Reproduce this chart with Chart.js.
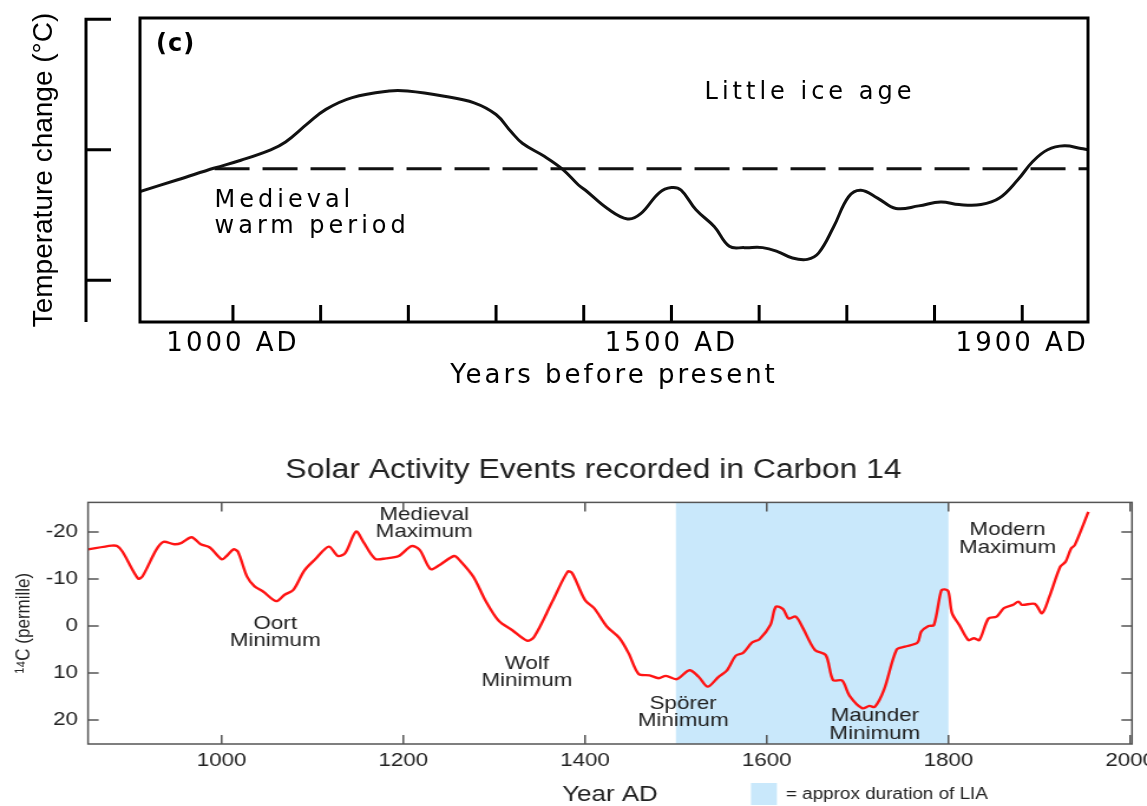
<!DOCTYPE html>
<html>
<head>
<meta charset="utf-8">
<script src="https://cdn.jsdelivr.net/npm/chart.js@4.4.1/dist/chart.umd.min.js"></script>
<style>
html,body{margin:0;padding:0;background:#fff;overflow:hidden}
#tempChart{position:absolute;left:0;top:0}
/* the carbon-14 panel in the source is stretched sideways, so draw it narrow and widen it */
#c14Chart{position:absolute;left:0;top:440px;transform:scaleX(1.18);transform-origin:0 0}
</style>
</head>
<body>
<canvas id="tempChart" width="1147" height="400"></canvas>
<canvas id="c14Chart" width="972" height="366"></canvas>
<script>
// ---- top panel (c): schematic temperature curve ----
const tempYears  = [894, 937, 979, 1009, 1043, 1060, 1085, 1106, 1136, 1178, 1199, 1241, 1275, 1300, 1317, 1330, 1355, 1376, 1394, 1402, 1427, 1450, 1465, 1486, 1500, 1511, 1528, 1549, 1566, 1583, 1604, 1621, 1638, 1655, 1668, 1685, 1702, 1716, 1735, 1756, 1782, 1807, 1828, 1853, 1874, 1895, 1912, 1929, 1948, 1967, 1975];
const tempValues = [-0.32, -0.23, -0.14, -0.08, 0, 0.06, 0.2, 0.31, 0.4, 0.45, 0.45, 0.41, 0.36, 0.27, 0.14, 0.05, -0.05, -0.15, -0.27, -0.31, -0.45, -0.53, -0.49, -0.33, -0.29, -0.31, -0.46, -0.59, -0.74, -0.75, -0.75, -0.78, -0.83, -0.84, -0.79, -0.59, -0.36, -0.31, -0.37, -0.45, -0.43, -0.4, -0.42, -0.42, -0.37, -0.23, -0.09, 0, 0.03, 0.01, 0];
const tempMeanYears = [979, 1975];
const tempMeanValue = -0.146;
const tempTickYears  = [1000, 1100, 1200, 1300, 1400, 1500, 1600, 1700, 1800, 1900];
const tempTickLabels = ['1000 AD', '', '', '', '', '1500 AD', '', '', '', '1900 AD'];
const tempAxisTicks = [1, 0, -1];
const tempNotes = [
  {lines: ['Little ice age'], year: 1658, value: 0.44, align: 'center'},
  {lines: ['Medieval', 'warm period'], year: 979, value: -0.49, align: 'left'}
];

// ---- bottom panel: carbon 14 record ----
const c14Years  = [853, 879, 885, 891, 908, 913, 928, 936, 948, 956, 967, 977, 987, 1000, 1005, 1013, 1018, 1028, 1036, 1046, 1060, 1069, 1079, 1091, 1103, 1118, 1128, 1136, 1148, 1156, 1169, 1181, 1195, 1209, 1218, 1230, 1240, 1256, 1262, 1277, 1291, 1305, 1320, 1336, 1344, 1364, 1381, 1386, 1400, 1410, 1424, 1438, 1448, 1459, 1471, 1481, 1489, 1501, 1515, 1525, 1535, 1547, 1556, 1566, 1574, 1584, 1592, 1604, 1610, 1618, 1624, 1632, 1640, 1653, 1665, 1673, 1683, 1691, 1705, 1713, 1719, 1729, 1743, 1752, 1766, 1770, 1778, 1784, 1792, 1796, 1800, 1804, 1812, 1822, 1828, 1834, 1844, 1853, 1861, 1871, 1877, 1881, 1895, 1903, 1911, 1923, 1929, 1935, 1939, 1954];
const c14Values = [-16.3, -17.1, -17.0, -15.8, -10.1, -10.6, -16.2, -17.9, -17.4, -17.7, -18.9, -17.4, -16.7, -14.2, -14.8, -16.3, -15.8, -10.5, -8.5, -7.3, -5.3, -6.6, -7.7, -11.8, -14.2, -16.9, -14.9, -15.5, -20.1, -17.9, -14.3, -14.4, -14.9, -17.0, -16.2, -12.1, -13.0, -14.9, -14.0, -10.5, -5.2, -1.1, 0.9, 3.1, 2.3, -5.2, -11.6, -11.2, -5.5, -3.8, 0.1, 2.6, 5.8, 10.2, 10.5, 11.1, 10.6, 11.3, 9.4, 10.8, 12.9, 10.8, 9.5, 6.3, 5.7, 3.5, 2.8, -0.2, -4.1, -3.6, -1.6, -2.0, 0.5, 5.1, 6.2, 11.5, 11.6, 14.8, 17.5, 17.0, 17.2, 13.6, 5.0, 4.4, 3.5, 1.2, 0.0, -0.2, -7.5, -7.8, -7.3, -2.7, -0.2, 3.0, 2.6, 3.0, -1.6, -2.0, -3.8, -4.5, -5.2, -4.5, -4.7, -2.7, -6.2, -12.6, -13.7, -16.5, -17.2, -24.3];
const c14XTicks = [1000, 1200, 1400, 1600, 1800, 2000];
const c14YTicks = [-20, -10, 0, 10, 20];
const c14YLabels = ['-20', '-10', '0', '10', '20'];
const liaYears = [1500, 1800];
const c14Events = [
  {lines: ['Medieval', 'Maximum'], year: 1223, value: -21.9},
  {lines: ['Oort', 'Minimum'], year: 1059, value: 1.3},
  {lines: ['Wolf', 'Minimum'], year: 1336, value: 9.8},
  {lines: ['Spörer', 'Minimum'], year: 1508, value: 18.3},
  {lines: ['Maunder', 'Minimum'], year: 1719, value: 21.0},
  {lines: ['Modern', 'Maximum'], year: 1865, value: -18.6}
];

const SANS = "'Liberation Sans', Arial, sans-serif";
const LIA_BLUE = '#c9e8fb';

// ---------- top chart ----------
const topPanel = {
  id: 'topPanel',
  beforeDraw(chart){ chart.ctx.letterSpacing = '3px'; },
  afterDraw(chart){
    const {ctx, chartArea: a, scales: {x, y}} = chart;
    ctx.save();
    ctx.letterSpacing = '0px';
    ctx.strokeStyle = '#000';
    ctx.lineWidth = 3;
    ctx.strokeRect(a.left, a.top, a.right - a.left, a.bottom - a.top);
    ctx.beginPath();
    tempTickYears.forEach(v=>{
      const px = x.getPixelForValue(v);
      ctx.moveTo(px, a.bottom); ctx.lineTo(px, a.bottom - 17);
    });
    // detached temperature scale on the left
    const bx = a.left - 54;
    ctx.moveTo(bx, y.getPixelForValue(tempAxisTicks[0]) - 1.5);
    ctx.lineTo(bx, a.bottom);
    tempAxisTicks.forEach(v=>{
      const py = y.getPixelForValue(v);
      ctx.moveTo(bx - 1.5, py); ctx.lineTo(bx + 25, py);
    });
    ctx.stroke();

    ctx.fillStyle = '#000';
    ctx.textBaseline = 'middle';
    ctx.textAlign = 'left';
    ctx.font = 'bold 24px "DejaVu Sans"';
    ctx.letterSpacing = '1px';
    ctx.fillText('(c)', a.left + 16, a.top + 27);

    ctx.font = '24px "DejaVu Sans"';
    ctx.letterSpacing = '4px';
    tempNotes.forEach(n=>{
      ctx.textAlign = n.align;
      const px = x.getPixelForValue(n.year), py = y.getPixelForValue(n.value);
      n.lines.forEach((t, i)=>ctx.fillText(t, px, py + (i - (n.lines.length - 1)/2)*26));
    });

    ctx.letterSpacing = '0px';
    ctx.font = '28px "Liberation Sans"';
    ctx.textAlign = 'center';
    ctx.translate(44, (a.top + a.bottom)/2);
    ctx.rotate(-Math.PI/2);
    ctx.fillText('Temperature change (°C)', 0, 0);
    ctx.restore();
  }
};

new Chart(document.getElementById('tempChart'), {
  type: 'line',
  data: {
    datasets: [
      {
        data: tempYears.map((yr, i)=>({x: yr, y: tempValues[i]})),
        borderColor: '#111', borderWidth: 3, pointRadius: 0, tension: 0.4
      },
      {
        data: tempMeanYears.map(yr=>({x: yr, y: tempMeanValue})),
        borderColor: '#111', borderWidth: 3, borderDash: [35, 13], pointRadius: 0
      }
    ]
  },
  options: {
    responsive: false,
    animation: false,
    layout: {padding: {left: 0, right: 59, top: 18, bottom: 0}},
    plugins: {legend: {display: false}, tooltip: {enabled: false}},
    scales: {
      x: {
        type: 'linear', min: 894, max: 1975,
        grid: {display: false, drawTicks: false},
        border: {display: false},
        afterBuildTicks: s=>{ s.ticks = tempTickYears.map(v=>({value: v})); },
        afterFit: s=>{ s.height = 78; s.paddingLeft = 0; s.paddingRight = 0; },
        ticks: {
          autoSkip: false, maxRotation: 0, padding: 9, color: '#000',
          font: {family: 'DejaVu Sans', size: 26, lineHeight: 1},
          callback: (v, i)=>tempTickLabels[i]
        },
        title: {
          display: true, text: 'Years before present', color: '#000',
          font: {family: 'DejaVu Sans', size: 26, lineHeight: 1},
          padding: {top: 0, bottom: 11}
        }
      },
      y: {
        min: -1.32, max: 1.01,
        grid: {display: false, drawTicks: false},
        border: {display: false},
        ticks: {display: false},
        afterFit: s=>{ s.width = 140; s.paddingTop = 0; s.paddingBottom = 0; }
      }
    }
  },
  plugins: [topPanel]
});

// ---------- bottom chart ----------
const c14Panel = {
  id: 'c14Panel',
  beforeDatasetsDraw(chart){
    const {ctx, chartArea: a, scales: {x}} = chart;
    const x0 = x.getPixelForValue(liaYears[0]), x1 = x.getPixelForValue(liaYears[1]);
    ctx.save();
    ctx.fillStyle = LIA_BLUE;
    ctx.fillRect(x0, a.top, x1 - x0, a.bottom - a.top);
    ctx.restore();
  },
  afterDatasetsDraw(chart){
    const {ctx, scales: {x, y}} = chart;
    ctx.save();
    ctx.fillStyle = '#222';
    ctx.font = '19px ' + SANS;
    ctx.textAlign = 'center';
    ctx.textBaseline = 'middle';
    c14Events.forEach(ev=>{
      const px = x.getPixelForValue(ev.year), py = y.getPixelForValue(ev.value);
      ev.lines.forEach((t, i)=>ctx.fillText(t, px, py + (i - (ev.lines.length - 1)/2)*17.5));
    });
    ctx.restore();
  },
  afterDraw(chart){
    const {ctx, chartArea: a, scales: {x, y}} = chart;
    ctx.save();
    ctx.strokeStyle = '#555';
    ctx.lineWidth = 1.5;
    ctx.strokeRect(a.left, a.top, a.right - a.left, a.bottom - a.top);
    ctx.beginPath();
    c14XTicks.forEach(v=>{
      const px = x.getPixelForValue(v);
      ctx.moveTo(px, a.bottom); ctx.lineTo(px, a.bottom - 9);
      ctx.moveTo(px, a.top); ctx.lineTo(px, a.top + 9);
    });
    c14YTicks.forEach(v=>{
      const py = y.getPixelForValue(v);
      ctx.moveTo(a.left, py); ctx.lineTo(a.left + 9, py);
      ctx.moveTo(a.right, py); ctx.lineTo(a.right - 9, py);
    });
    ctx.stroke();

    // y tick labels (drawn here: the narrow axis box would clip the minus signs)
    ctx.fillStyle = '#222';
    ctx.font = '19px ' + SANS;
    ctx.textAlign = 'right';
    ctx.textBaseline = 'middle';
    c14YTicks.forEach((v, i)=>ctx.fillText(c14YLabels[i], a.left - 8.5, y.getPixelForValue(v)));

    // legend swatch for the shaded band
    ctx.fillStyle = LIA_BLUE;
    ctx.fillRect(636.4, 343, 22, 22);
    ctx.fillStyle = '#222';
    ctx.font = '16px ' + SANS;
    ctx.textAlign = 'left';
    ctx.fillText('= approx duration of LIA', 666, 355);
    ctx.restore();
  }
};

new Chart(document.getElementById('c14Chart'), {
  type: 'line',
  data: {
    datasets: [{
      data: c14Years.map((yr, i)=>({x: yr, y: c14Values[i]})),
      borderColor: '#ff1414', borderWidth: 2.4, pointRadius: 0, tension: 0.3
    }]
  },
  options: {
    responsive: false,
    animation: false,
    layout: {padding: {left: 46.7, right: 12.7, top: 0, bottom: 0}},
    plugins: {
      legend: {display: false},
      tooltip: {enabled: false},
      title: {
        display: true, text: 'Solar Activity Events recorded in Carbon 14',
        color: '#222', font: {family: SANS, size: 27, weight: 'normal', lineHeight: 1.2},
        padding: {top: 14, bottom: 16}
      }
    },
    scales: {
      x: {
        type: 'linear', min: 853, max: 2002,
        grid: {display: false, drawTicks: false},
        border: {display: false},
        afterBuildTicks: s=>{ s.ticks = c14XTicks.map(v=>({value: v})); },
        afterFit: s=>{ s.height = 62; s.paddingLeft = 0; s.paddingRight = 0; },
        ticks: {
          autoSkip: false, maxRotation: 0, padding: 5, color: '#222',
          font: {family: SANS, size: 19},
          callback: (v, i)=>String(c14XTicks[i])
        },
        title: {
          display: true, text: 'Year AD', color: '#222',
          font: {family: SANS, size: 22, lineHeight: 1},
          padding: {top: 0, bottom: 0}
        }
      },
      y: {
        reverse: true, min: -26.3, max: 25.1,
        grid: {display: false, drawTicks: false},
        border: {display: false},
        afterBuildTicks: s=>{ s.ticks = c14YTicks.map(v=>({value: v})); },
        afterFit: s=>{ s.width = 27.9; s.paddingTop = 0; s.paddingBottom = 0; },
        ticks: {display: false},
        title: {
          display: true, text: '¹⁴C (permille)', color: '#222',
          font: {family: SANS, size: 17},
          padding: {top: -36.6, bottom: 0}
        }
      }
    }
  },
  plugins: [c14Panel]
});
</script>
</body>
</html>
